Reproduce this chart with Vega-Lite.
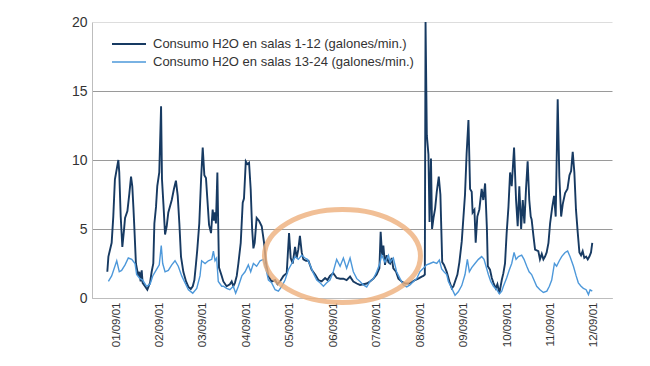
{
  "$schema": "https://vega.github.io/schema/vega-lite/v6.json",
  "width": 520,
  "height": 276,
  "autosize": "none",
  "padding": {"left": 92, "top": 22, "right": 38, "bottom": 68},
  "background": "white",
  "config": {
    "view": {"stroke": null},
    "font": "Liberation Sans",
    "axis": {"labelFont": "Liberation Sans", "labelColor": "#333333"},
    "legend": {"labelFont": "Liberation Sans"}
  },
  "layer": [
    {
      "data": {
        "values": [
          {"h": -4.8, "v": 1.9, "s": "1-12"}, {"h": -4.2, "v": 3.0, "s": "1-12"}, {"h": -2.4, "v": 4.0, "s": "1-12"}, {"h": -1.5, "v": 5.9, "s": "1-12"}, {"h": -0.6, "v": 8.6, "s": "1-12"}, {"h": 1.3, "v": 10.0, "s": "1-12"}, {"h": 1.8, "v": 9.1, "s": "1-12"}, {"h": 2.6, "v": 5.9, "s": "1-12"}, {"h": 3.5, "v": 3.7, "s": "1-12"}, {"h": 4.4, "v": 4.9, "s": "1-12"}, {"h": 5.0, "v": 5.8, "s": "1-12"}, {"h": 6.3, "v": 6.3, "s": "1-12"}, {"h": 7.4, "v": 7.6, "s": "1-12"}, {"h": 8.3, "v": 8.8, "s": "1-12"}, {"h": 9.0, "v": 8.1, "s": "1-12"}, {"h": 9.6, "v": 6.6, "s": "1-12"}, {"h": 10.1, "v": 5.2, "s": "1-12"}, {"h": 11.0, "v": 2.5, "s": "1-12"}, {"h": 12.3, "v": 1.6, "s": "1-12"}, {"h": 12.9, "v": 1.9, "s": "1-12"}, {"h": 13.6, "v": 1.2, "s": "1-12"}, {"h": 14.2, "v": 2.0, "s": "1-12"}, {"h": 14.7, "v": 1.1, "s": "1-12"}, {"h": 16.0, "v": 0.85, "s": "1-12"}, {"h": 17.3, "v": 0.6, "s": "1-12"}, {"h": 18.8, "v": 1.1, "s": "1-12"}, {"h": 19.7, "v": 1.9, "s": "1-12"}, {"h": 20.6, "v": 2.5, "s": "1-12"}, {"h": 21.2, "v": 5.4, "s": "1-12"}, {"h": 22.1, "v": 6.6, "s": "1-12"}, {"h": 22.8, "v": 8.1, "s": "1-12"}, {"h": 23.9, "v": 9.1, "s": "1-12"}, {"h": 24.9, "v": 13.9, "s": "1-12"}, {"h": 25.4, "v": 8.6, "s": "1-12"}, {"h": 26.2, "v": 6.8, "s": "1-12"}, {"h": 27.1, "v": 4.6, "s": "1-12"}, {"h": 28.0, "v": 5.2, "s": "1-12"}, {"h": 28.9, "v": 6.2, "s": "1-12"}, {"h": 30.8, "v": 7.1, "s": "1-12"}, {"h": 32.0, "v": 7.9, "s": "1-12"}, {"h": 33.1, "v": 8.5, "s": "1-12"}, {"h": 34.1, "v": 7.4, "s": "1-12"}, {"h": 35.0, "v": 5.4, "s": "1-12"}, {"h": 35.9, "v": 3.0, "s": "1-12"}, {"h": 37.2, "v": 1.9, "s": "1-12"}, {"h": 38.7, "v": 1.2, "s": "1-12"}, {"h": 40.0, "v": 0.8, "s": "1-12"}, {"h": 41.3, "v": 0.65, "s": "1-12"}, {"h": 42.4, "v": 0.85, "s": "1-12"}, {"h": 43.3, "v": 1.3, "s": "1-12"}, {"h": 44.2, "v": 2.5, "s": "1-12"}, {"h": 44.9, "v": 3.5, "s": "1-12"}, {"h": 46.0, "v": 5.4, "s": "1-12"}, {"h": 47.0, "v": 8.6, "s": "1-12"}, {"h": 47.9, "v": 10.9, "s": "1-12"}, {"h": 48.8, "v": 8.9, "s": "1-12"}, {"h": 49.7, "v": 8.7, "s": "1-12"}, {"h": 50.5, "v": 7.1, "s": "1-12"}, {"h": 51.4, "v": 5.3, "s": "1-12"}, {"h": 52.5, "v": 4.7, "s": "1-12"}, {"h": 53.4, "v": 6.4, "s": "1-12"}, {"h": 54.1, "v": 5.6, "s": "1-12"}, {"h": 54.7, "v": 6.2, "s": "1-12"}, {"h": 55.2, "v": 5.4, "s": "1-12"}, {"h": 56.0, "v": 9.1, "s": "1-12"}, {"h": 56.5, "v": 5.0, "s": "1-12"}, {"h": 56.9, "v": 2.2, "s": "1-12"}, {"h": 58.4, "v": 1.6, "s": "1-12"}, {"h": 59.3, "v": 1.2, "s": "1-12"}, {"h": 61.1, "v": 0.85, "s": "1-12"}, {"h": 62.9, "v": 1.0, "s": "1-12"}, {"h": 63.9, "v": 1.2, "s": "1-12"}, {"h": 64.8, "v": 0.85, "s": "1-12"}, {"h": 65.7, "v": 1.1, "s": "1-12"}, {"h": 66.7, "v": 1.6, "s": "1-12"}, {"h": 67.6, "v": 2.5, "s": "1-12"}, {"h": 68.9, "v": 4.0, "s": "1-12"}, {"h": 70.0, "v": 6.9, "s": "1-12"}, {"h": 70.7, "v": 7.2, "s": "1-12"}, {"h": 71.7, "v": 9.9, "s": "1-12"}, {"h": 72.6, "v": 9.7, "s": "1-12"}, {"h": 73.5, "v": 9.8, "s": "1-12"}, {"h": 74.4, "v": 7.9, "s": "1-12"}, {"h": 75.2, "v": 5.0, "s": "1-12"}, {"h": 75.9, "v": 3.6, "s": "1-12"}, {"h": 76.6, "v": 4.0, "s": "1-12"}, {"h": 77.7, "v": 5.8, "s": "1-12"}, {"h": 79.0, "v": 5.6, "s": "1-12"}, {"h": 80.5, "v": 5.2, "s": "1-12"}, {"h": 81.8, "v": 4.0, "s": "1-12"}, {"h": 82.9, "v": 2.5, "s": "1-12"}, {"h": 84.2, "v": 1.6, "s": "1-12"}, {"h": 86.0, "v": 1.2, "s": "1-12"}, {"h": 87.9, "v": 1.3, "s": "1-12"}, {"h": 89.2, "v": 1.0, "s": "1-12"}, {"h": 90.6, "v": 1.2, "s": "1-12"}, {"h": 92.5, "v": 1.6, "s": "1-12"}, {"h": 94.3, "v": 1.8, "s": "1-12"}, {"h": 95.6, "v": 4.7, "s": "1-12"}, {"h": 96.5, "v": 2.9, "s": "1-12"}, {"h": 97.6, "v": 2.5, "s": "1-12"}, {"h": 98.9, "v": 3.7, "s": "1-12"}, {"h": 99.8, "v": 2.9, "s": "1-12"}, {"h": 100.7, "v": 3.5, "s": "1-12"}, {"h": 101.6, "v": 4.5, "s": "1-12"}, {"h": 102.6, "v": 3.3, "s": "1-12"}, {"h": 103.5, "v": 2.8, "s": "1-12"}, {"h": 105.0, "v": 2.7, "s": "1-12"}, {"h": 106.3, "v": 2.7, "s": "1-12"}, {"h": 108.1, "v": 2.05, "s": "1-12"}, {"h": 110.0, "v": 1.7, "s": "1-12"}, {"h": 111.8, "v": 1.3, "s": "1-12"}, {"h": 113.6, "v": 1.2, "s": "1-12"}, {"h": 115.5, "v": 1.45, "s": "1-12"}, {"h": 116.8, "v": 1.3, "s": "1-12"}, {"h": 118.2, "v": 1.6, "s": "1-12"}, {"h": 120.0, "v": 1.8, "s": "1-12"}, {"h": 121.9, "v": 1.45, "s": "1-12"}, {"h": 123.8, "v": 1.4, "s": "1-12"}, {"h": 125.6, "v": 1.4, "s": "1-12"}, {"h": 127.4, "v": 1.3, "s": "1-12"}, {"h": 129.3, "v": 1.55, "s": "1-12"}, {"h": 131.1, "v": 1.2, "s": "1-12"}, {"h": 133.0, "v": 1.05, "s": "1-12"}, {"h": 134.8, "v": 0.95, "s": "1-12"}, {"h": 136.6, "v": 1.0, "s": "1-12"}, {"h": 138.5, "v": 1.05, "s": "1-12"}, {"h": 140.3, "v": 1.2, "s": "1-12"}, {"h": 142.2, "v": 1.4, "s": "1-12"}, {"h": 144.0, "v": 1.7, "s": "1-12"}, {"h": 145.5, "v": 2.15, "s": "1-12"}, {"h": 146.2, "v": 4.8, "s": "1-12"}, {"h": 147.0, "v": 3.1, "s": "1-12"}, {"h": 147.7, "v": 3.8, "s": "1-12"}, {"h": 148.6, "v": 2.4, "s": "1-12"}, {"h": 149.5, "v": 3.1, "s": "1-12"}, {"h": 150.5, "v": 2.6, "s": "1-12"}, {"h": 151.4, "v": 2.5, "s": "1-12"}, {"h": 152.3, "v": 2.9, "s": "1-12"}, {"h": 153.2, "v": 2.15, "s": "1-12"}, {"h": 154.7, "v": 1.9, "s": "1-12"}, {"h": 156.0, "v": 1.4, "s": "1-12"}, {"h": 157.8, "v": 1.2, "s": "1-12"}, {"h": 159.7, "v": 1.05, "s": "1-12"}, {"h": 161.5, "v": 1.05, "s": "1-12"}, {"h": 163.4, "v": 1.15, "s": "1-12"}, {"h": 165.2, "v": 1.3, "s": "1-12"}, {"h": 167.0, "v": 1.4, "s": "1-12"}, {"h": 168.9, "v": 1.55, "s": "1-12"}, {"h": 169.8, "v": 1.6, "s": "1-12"}, {"h": 170.6, "v": 1.7, "s": "1-12"}, {"h": 171.0, "v": 20.0, "s": "1-12"}, {"h": 171.7, "v": 11.8, "s": "1-12"}, {"h": 172.6, "v": 10.4, "s": "1-12"}, {"h": 173.2, "v": 5.5, "s": "1-12"}, {"h": 174.0, "v": 10.1, "s": "1-12"}, {"h": 174.6, "v": 5.0, "s": "1-12"}, {"h": 175.4, "v": 5.8, "s": "1-12"}, {"h": 176.3, "v": 6.5, "s": "1-12"}, {"h": 177.2, "v": 7.7, "s": "1-12"}, {"h": 178.3, "v": 8.8, "s": "1-12"}, {"h": 179.2, "v": 7.5, "s": "1-12"}, {"h": 180.2, "v": 2.6, "s": "1-12"}, {"h": 181.2, "v": 2.4, "s": "1-12"}, {"h": 182.7, "v": 1.9, "s": "1-12"}, {"h": 184.2, "v": 1.2, "s": "1-12"}, {"h": 185.5, "v": 0.7, "s": "1-12"}, {"h": 186.4, "v": 0.85, "s": "1-12"}, {"h": 187.3, "v": 1.2, "s": "1-12"}, {"h": 188.6, "v": 1.7, "s": "1-12"}, {"h": 189.7, "v": 2.6, "s": "1-12"}, {"h": 191.0, "v": 4.1, "s": "1-12"}, {"h": 192.8, "v": 7.5, "s": "1-12"}, {"h": 193.7, "v": 10.5, "s": "1-12"}, {"h": 194.7, "v": 12.9, "s": "1-12"}, {"h": 195.6, "v": 7.9, "s": "1-12"}, {"h": 196.5, "v": 7.7, "s": "1-12"}, {"h": 197.0, "v": 6.2, "s": "1-12"}, {"h": 198.0, "v": 6.4, "s": "1-12"}, {"h": 198.7, "v": 4.0, "s": "1-12"}, {"h": 199.6, "v": 5.9, "s": "1-12"}, {"h": 200.7, "v": 6.4, "s": "1-12"}, {"h": 202.0, "v": 7.9, "s": "1-12"}, {"h": 202.9, "v": 7.1, "s": "1-12"}, {"h": 203.9, "v": 8.3, "s": "1-12"}, {"h": 204.9, "v": 5.0, "s": "1-12"}, {"h": 205.4, "v": 2.3, "s": "1-12"}, {"h": 206.6, "v": 2.05, "s": "1-12"}, {"h": 207.6, "v": 1.45, "s": "1-12"}, {"h": 208.5, "v": 1.1, "s": "1-12"}, {"h": 209.8, "v": 0.7, "s": "1-12"}, {"h": 210.7, "v": 1.0, "s": "1-12"}, {"h": 211.8, "v": 0.35, "s": "1-12"}, {"h": 213.1, "v": 1.3, "s": "1-12"}, {"h": 214.0, "v": 1.8, "s": "1-12"}, {"h": 214.9, "v": 2.5, "s": "1-12"}, {"h": 215.8, "v": 4.7, "s": "1-12"}, {"h": 216.8, "v": 6.6, "s": "1-12"}, {"h": 217.7, "v": 9.1, "s": "1-12"}, {"h": 218.6, "v": 8.1, "s": "1-12"}, {"h": 219.9, "v": 10.9, "s": "1-12"}, {"h": 221.0, "v": 7.1, "s": "1-12"}, {"h": 221.9, "v": 5.2, "s": "1-12"}, {"h": 222.8, "v": 8.1, "s": "1-12"}, {"h": 223.8, "v": 5.0, "s": "1-12"}, {"h": 224.7, "v": 7.1, "s": "1-12"}, {"h": 225.6, "v": 5.4, "s": "1-12"}, {"h": 226.5, "v": 7.9, "s": "1-12"}, {"h": 227.4, "v": 9.9, "s": "1-12"}, {"h": 228.3, "v": 7.1, "s": "1-12"}, {"h": 229.1, "v": 5.9, "s": "1-12"}, {"h": 229.6, "v": 5.7, "s": "1-12"}, {"h": 230.6, "v": 4.5, "s": "1-12"}, {"h": 231.5, "v": 3.5, "s": "1-12"}, {"h": 233.3, "v": 3.4, "s": "1-12"}, {"h": 234.2, "v": 2.8, "s": "1-12"}, {"h": 235.2, "v": 3.2, "s": "1-12"}, {"h": 236.1, "v": 2.8, "s": "1-12"}, {"h": 237.0, "v": 3.0, "s": "1-12"}, {"h": 237.9, "v": 3.3, "s": "1-12"}, {"h": 238.9, "v": 4.0, "s": "1-12"}, {"h": 239.8, "v": 5.4, "s": "1-12"}, {"h": 241.0, "v": 6.6, "s": "1-12"}, {"h": 242.0, "v": 7.4, "s": "1-12"}, {"h": 242.9, "v": 5.9, "s": "1-12"}, {"h": 244.0, "v": 14.4, "s": "1-12"}, {"h": 244.9, "v": 8.8, "s": "1-12"}, {"h": 245.9, "v": 5.9, "s": "1-12"}, {"h": 246.8, "v": 6.8, "s": "1-12"}, {"h": 248.1, "v": 7.6, "s": "1-12"}, {"h": 249.4, "v": 7.9, "s": "1-12"}, {"h": 250.5, "v": 8.9, "s": "1-12"}, {"h": 251.4, "v": 9.2, "s": "1-12"}, {"h": 252.3, "v": 10.6, "s": "1-12"}, {"h": 253.2, "v": 9.1, "s": "1-12"}, {"h": 254.1, "v": 6.4, "s": "1-12"}, {"h": 255.1, "v": 4.7, "s": "1-12"}, {"h": 256.0, "v": 3.3, "s": "1-12"}, {"h": 256.9, "v": 3.1, "s": "1-12"}, {"h": 257.8, "v": 3.4, "s": "1-12"}, {"h": 258.7, "v": 2.9, "s": "1-12"}, {"h": 259.7, "v": 3.0, "s": "1-12"}, {"h": 260.6, "v": 2.8, "s": "1-12"}, {"h": 261.5, "v": 3.0, "s": "1-12"}, {"h": 262.4, "v": 3.3, "s": "1-12"}, {"h": 263.1, "v": 4.0, "s": "1-12"},
          {"h": -4.2, "v": 1.2, "s": "13-24"}, {"h": -2.4, "v": 1.6, "s": "13-24"}, {"h": 0.4, "v": 2.7, "s": "13-24"}, {"h": 1.8, "v": 1.9, "s": "13-24"}, {"h": 3.1, "v": 2.0, "s": "13-24"}, {"h": 5.0, "v": 2.4, "s": "13-24"}, {"h": 6.8, "v": 2.9, "s": "13-24"}, {"h": 8.7, "v": 2.8, "s": "13-24"}, {"h": 10.5, "v": 2.5, "s": "13-24"}, {"h": 11.4, "v": 1.7, "s": "13-24"}, {"h": 12.9, "v": 1.45, "s": "13-24"}, {"h": 14.7, "v": 1.3, "s": "13-24"}, {"h": 16.9, "v": 0.85, "s": "13-24"}, {"h": 18.8, "v": 1.0, "s": "13-24"}, {"h": 20.3, "v": 1.6, "s": "13-24"}, {"h": 22.1, "v": 2.0, "s": "13-24"}, {"h": 23.9, "v": 2.4, "s": "13-24"}, {"h": 25.0, "v": 3.8, "s": "13-24"}, {"h": 25.8, "v": 2.5, "s": "13-24"}, {"h": 27.1, "v": 1.9, "s": "13-24"}, {"h": 28.9, "v": 2.0, "s": "13-24"}, {"h": 30.8, "v": 2.4, "s": "13-24"}, {"h": 32.6, "v": 2.7, "s": "13-24"}, {"h": 34.4, "v": 2.3, "s": "13-24"}, {"h": 36.3, "v": 1.6, "s": "13-24"}, {"h": 38.1, "v": 1.1, "s": "13-24"}, {"h": 40.0, "v": 0.6, "s": "13-24"}, {"h": 42.4, "v": 0.35, "s": "13-24"}, {"h": 44.6, "v": 0.7, "s": "13-24"}, {"h": 46.4, "v": 1.6, "s": "13-24"}, {"h": 47.3, "v": 2.7, "s": "13-24"}, {"h": 49.2, "v": 2.5, "s": "13-24"}, {"h": 51.0, "v": 2.7, "s": "13-24"}, {"h": 52.9, "v": 2.8, "s": "13-24"}, {"h": 53.8, "v": 3.4, "s": "13-24"}, {"h": 54.7, "v": 2.7, "s": "13-24"}, {"h": 55.6, "v": 2.9, "s": "13-24"}, {"h": 56.5, "v": 1.2, "s": "13-24"}, {"h": 58.4, "v": 0.85, "s": "13-24"}, {"h": 59.3, "v": 0.85, "s": "13-24"}, {"h": 61.1, "v": 0.7, "s": "13-24"}, {"h": 62.9, "v": 0.6, "s": "13-24"}, {"h": 64.8, "v": 0.85, "s": "13-24"}, {"h": 66.1, "v": 0.35, "s": "13-24"}, {"h": 67.6, "v": 0.85, "s": "13-24"}, {"h": 69.5, "v": 1.6, "s": "13-24"}, {"h": 71.3, "v": 1.9, "s": "13-24"}, {"h": 73.1, "v": 2.4, "s": "13-24"}, {"h": 74.4, "v": 1.9, "s": "13-24"}, {"h": 75.9, "v": 2.5, "s": "13-24"}, {"h": 77.7, "v": 2.3, "s": "13-24"}, {"h": 79.6, "v": 2.7, "s": "13-24"}, {"h": 81.4, "v": 2.8, "s": "13-24"}, {"h": 82.9, "v": 2.05, "s": "13-24"}, {"h": 84.2, "v": 1.3, "s": "13-24"}, {"h": 86.0, "v": 1.1, "s": "13-24"}, {"h": 87.9, "v": 0.6, "s": "13-24"}, {"h": 89.7, "v": 0.5, "s": "13-24"}, {"h": 91.6, "v": 0.85, "s": "13-24"}, {"h": 93.4, "v": 1.3, "s": "13-24"}, {"h": 95.2, "v": 2.05, "s": "13-24"}, {"h": 97.1, "v": 2.5, "s": "13-24"}, {"h": 98.9, "v": 3.0, "s": "13-24"}, {"h": 100.7, "v": 2.8, "s": "13-24"}, {"h": 102.6, "v": 3.1, "s": "13-24"}, {"h": 104.4, "v": 2.9, "s": "13-24"}, {"h": 105.7, "v": 2.8, "s": "13-24"}, {"h": 107.2, "v": 2.4, "s": "13-24"}, {"h": 109.0, "v": 1.8, "s": "13-24"}, {"h": 110.9, "v": 1.3, "s": "13-24"}, {"h": 112.7, "v": 1.1, "s": "13-24"}, {"h": 114.6, "v": 0.85, "s": "13-24"}, {"h": 116.4, "v": 1.1, "s": "13-24"}, {"h": 118.2, "v": 1.3, "s": "13-24"}, {"h": 120.0, "v": 1.9, "s": "13-24"}, {"h": 121.9, "v": 2.8, "s": "13-24"}, {"h": 123.8, "v": 2.3, "s": "13-24"}, {"h": 125.6, "v": 2.9, "s": "13-24"}, {"h": 127.4, "v": 2.15, "s": "13-24"}, {"h": 129.3, "v": 2.9, "s": "13-24"}, {"h": 131.1, "v": 1.9, "s": "13-24"}, {"h": 133.0, "v": 1.4, "s": "13-24"}, {"h": 134.8, "v": 1.2, "s": "13-24"}, {"h": 136.6, "v": 0.95, "s": "13-24"}, {"h": 138.5, "v": 0.8, "s": "13-24"}, {"h": 140.3, "v": 1.2, "s": "13-24"}, {"h": 142.2, "v": 1.4, "s": "13-24"}, {"h": 144.0, "v": 1.9, "s": "13-24"}, {"h": 145.5, "v": 2.4, "s": "13-24"}, {"h": 146.8, "v": 3.1, "s": "13-24"}, {"h": 148.6, "v": 2.6, "s": "13-24"}, {"h": 150.5, "v": 3.1, "s": "13-24"}, {"h": 151.4, "v": 2.6, "s": "13-24"}, {"h": 153.2, "v": 2.9, "s": "13-24"}, {"h": 155.0, "v": 1.9, "s": "13-24"}, {"h": 156.9, "v": 1.4, "s": "13-24"}, {"h": 158.7, "v": 0.95, "s": "13-24"}, {"h": 160.6, "v": 0.8, "s": "13-24"}, {"h": 162.4, "v": 0.95, "s": "13-24"}, {"h": 164.3, "v": 1.2, "s": "13-24"}, {"h": 166.1, "v": 1.4, "s": "13-24"}, {"h": 167.9, "v": 1.9, "s": "13-24"}, {"h": 169.8, "v": 2.15, "s": "13-24"}, {"h": 171.6, "v": 2.4, "s": "13-24"}, {"h": 173.5, "v": 2.5, "s": "13-24"}, {"h": 175.3, "v": 2.6, "s": "13-24"}, {"h": 177.2, "v": 2.5, "s": "13-24"}, {"h": 178.6, "v": 2.75, "s": "13-24"}, {"h": 179.9, "v": 2.1, "s": "13-24"}, {"h": 181.2, "v": 1.9, "s": "13-24"}, {"h": 182.7, "v": 1.7, "s": "13-24"}, {"h": 183.6, "v": 1.2, "s": "13-24"}, {"h": 185.5, "v": 0.7, "s": "13-24"}, {"h": 187.3, "v": 0.2, "s": "13-24"}, {"h": 189.1, "v": 0.45, "s": "13-24"}, {"h": 191.0, "v": 0.9, "s": "13-24"}, {"h": 192.8, "v": 1.7, "s": "13-24"}, {"h": 194.1, "v": 2.8, "s": "13-24"}, {"h": 195.2, "v": 1.9, "s": "13-24"}, {"h": 196.5, "v": 2.2, "s": "13-24"}, {"h": 198.3, "v": 2.5, "s": "13-24"}, {"h": 200.2, "v": 2.8, "s": "13-24"}, {"h": 202.0, "v": 3.0, "s": "13-24"}, {"h": 203.3, "v": 2.8, "s": "13-24"}, {"h": 204.4, "v": 2.3, "s": "13-24"}, {"h": 205.7, "v": 1.7, "s": "13-24"}, {"h": 207.0, "v": 1.2, "s": "13-24"}, {"h": 208.5, "v": 0.85, "s": "13-24"}, {"h": 210.3, "v": 0.6, "s": "13-24"}, {"h": 211.8, "v": 0.3, "s": "13-24"}, {"h": 213.1, "v": 0.5, "s": "13-24"}, {"h": 214.0, "v": 0.85, "s": "13-24"}, {"h": 215.8, "v": 1.45, "s": "13-24"}, {"h": 217.3, "v": 2.05, "s": "13-24"}, {"h": 218.6, "v": 2.5, "s": "13-24"}, {"h": 219.9, "v": 3.3, "s": "13-24"}, {"h": 221.0, "v": 2.8, "s": "13-24"}, {"h": 222.3, "v": 3.0, "s": "13-24"}, {"h": 224.1, "v": 3.1, "s": "13-24"}, {"h": 225.4, "v": 2.8, "s": "13-24"}, {"h": 226.9, "v": 2.3, "s": "13-24"}, {"h": 228.2, "v": 1.9, "s": "13-24"}, {"h": 229.6, "v": 1.7, "s": "13-24"}, {"h": 230.9, "v": 1.3, "s": "13-24"}, {"h": 232.4, "v": 0.85, "s": "13-24"}, {"h": 234.2, "v": 0.6, "s": "13-24"}, {"h": 236.1, "v": 0.4, "s": "13-24"}, {"h": 238.0, "v": 0.5, "s": "13-24"}, {"h": 239.4, "v": 0.85, "s": "13-24"}, {"h": 240.7, "v": 1.3, "s": "13-24"}, {"h": 242.2, "v": 2.5, "s": "13-24"}, {"h": 243.4, "v": 2.3, "s": "13-24"}, {"h": 244.9, "v": 2.7, "s": "13-24"}, {"h": 246.2, "v": 3.0, "s": "13-24"}, {"h": 248.1, "v": 3.3, "s": "13-24"}, {"h": 249.5, "v": 3.4, "s": "13-24"}, {"h": 250.8, "v": 3.0, "s": "13-24"}, {"h": 252.7, "v": 2.3, "s": "13-24"}, {"h": 254.2, "v": 1.6, "s": "13-24"}, {"h": 255.4, "v": 1.1, "s": "13-24"}, {"h": 256.9, "v": 0.85, "s": "13-24"}, {"h": 258.2, "v": 0.7, "s": "13-24"}, {"h": 259.7, "v": 0.6, "s": "13-24"}, {"h": 261.0, "v": 0.25, "s": "13-24"}, {"h": 261.9, "v": 0.6, "s": "13-24"}, {"h": 263.1, "v": 0.5, "s": "13-24"}
        ]
      },
      "mark": {"type": "line", "interpolate": "linear"},
      "encoding": {
        "x": {
          "field": "h",
          "type": "quantitative",
          "scale": {"domain": [-13.26, 274.0], "nice": false, "zero": false},
          "axis": {
            "title": null,
            "values": [0, 24, 48, 72, 96, 120, 144, 168, 192, 216, 240, 264],
            "labelExpr": "((datum.value / 24 + 1) < 10 ? '0' : '') + (datum.value / 24 + 1) + '/09/01'",
            "labelAngle": -90,
            "labelFontSize": 11.5,
            "labelPadding": 4,
            "ticks": false,
            "grid": false,
            "domainColor": "#bdbdbd",
            "labelOverlap": false
          }
        },
        "y": {
          "field": "v",
          "type": "quantitative",
          "scale": {"domain": [0, 20], "nice": false},
          "axis": {
            "title": null,
            "values": [0, 5, 10, 15, 20],
            "labelFontSize": 14,
            "labelPadding": 5,
            "ticks": false,
            "grid": true,
            "gridColor": {"condition": {"test": "datum.value == 20", "value": "#dddddd"}, "value": "#9a9a9a"},
            "gridWidth": 1,
            "domainColor": "#bdbdbd"
          }
        },
        "strokeWidth": {
          "field": "s",
          "type": "nominal",
          "scale": {"domain": ["1-12", "13-24"], "range": [1.9, 1.4]},
          "legend": null
        },
        "color": {
          "field": "s",
          "type": "nominal",
          "scale": {"domain": ["1-12", "13-24"], "range": ["#173a62", "#4d98da"]},
          "legend": {
            "title": null,
            "orient": "none",
            "legendX": 19,
            "legendY": 15,
            "direction": "vertical",
            "symbolType": "stroke",
            "symbolSize": 1156,
            "symbolStrokeWidth": 1.5,
            "labelFontSize": 13,
            "labelColor": "#333333",
            "labelOffset": 6,
            "clipHeight": 14,
            "rowPadding": 4,
            "labelLimit": 400,
            "labelExpr": "'Consumo H2O en salas ' + datum.label + ' (galones/min.)'"
          }
        }
      }
    },
    {
      "data": {"values": [{"h": 125.1, "v": 3.04}]},
      "mark": {
        "type": "point",
        "shape": "M-1,0A1,0.596,0,1,1,1,0A1,0.596,0,1,1,-1,0Z",
        "filled": false,
        "size": 24336,
        "stroke": "#eeb07c",
        "strokeWidth": 5,
        "opacity": 0.8
      },
      "encoding": {
        "x": {"field": "h", "type": "quantitative"},
        "y": {"field": "v", "type": "quantitative"}
      }
    }
  ]
}
